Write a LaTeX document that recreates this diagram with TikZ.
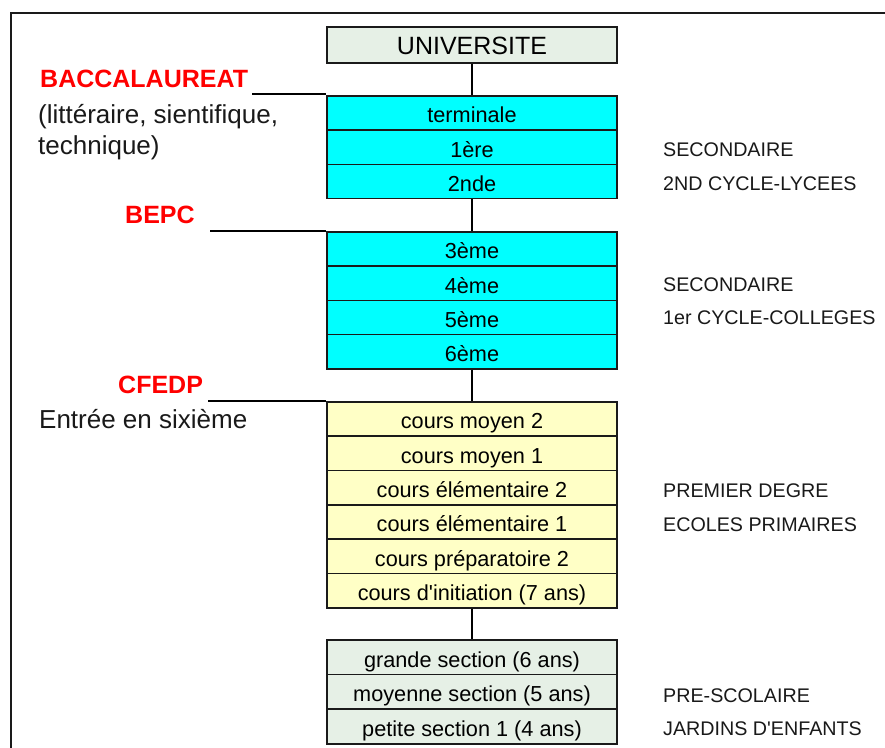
\documentclass[tikz,border=0pt]{standalone}
\usepackage{fontspec}
\setmainfont{Liberation Sans}
\definecolor{cyanbox}{HTML}{00FFFF}
\definecolor{yellowbox}{HTML}{FFFFC6}
\definecolor{greenbox}{HTML}{E6F0E6}
\definecolor{edge}{HTML}{1A1A1A}
\definecolor{redlabel}{HTML}{FF0000}
\begin{document}
\begin{tikzpicture}[x=1pt,y=-1pt,
  row/.style={draw=edge, line width=1.5pt, rectangle, minimum width=290pt,
    inner sep=0pt, anchor=north, text height=20pt, text depth=0pt,
    font=\fontsize{21.7}{24}\selectfont},
  cyanrow/.style={row, fill=cyanbox, minimum height=34.25pt},
  yellowrow/.style={row, fill=yellowbox, minimum height=34.33pt},
  greenrow/.style={row, fill=greenbox, minimum height=34.67pt},
  conn/.style={draw=black, line width=1.5pt},
  redlab/.style={inner sep=0pt, anchor=base west, text=redlabel,
    font=\fontsize{25}{28}\selectfont\bfseries},
  lefttext/.style={inner sep=0pt, anchor=base west, text=black!90,
    font=\fontsize{26}{30}\selectfont},
  righttext/.style={inner sep=0pt, anchor=base west, text=black!90,
    font=\fontsize{19.7}{23}\selectfont},
]
\useasboundingbox (0,0) rectangle (885,747);
% outer frame
\draw[edge, line width=2pt] (11,760) -- (11,12.5) -- (900,12.5);

% university
\node[row, fill=greenbox, minimum height=36pt, font=\fontsize{25}{28}\selectfont] (univ) at (472,26) {UNIVERSITE};

% lycee
\node[cyanrow] (term) at (472,95) {terminale};
\node[cyanrow] (prem) at (472,129.25) {1ère};
\node[cyanrow] (sec) at (472,163.5) {2nde};

% college
\node[cyanrow] (trois) at (472,231) {3ème};
\node[cyanrow] (quatre) at (472,265.25) {4ème};
\node[cyanrow] (cinq) at (472,299.5) {5ème};
\node[cyanrow] (six) at (472,333.75) {6ème};

% primaire
\node[yellowrow] (cm2) at (472,401) {cours moyen 2};
\node[yellowrow] (cm1) at (472,435.33) {cours moyen 1};
\node[yellowrow] (ce2) at (472,469.67) {cours élémentaire 2};
\node[yellowrow] (ce1) at (472,504) {cours élémentaire 1};
\node[yellowrow] (cp2) at (472,538.33) {cours préparatoire 2};
\node[yellowrow] (ci) at (472,572.67) {cours d\textquotesingle initiation (7 ans)};

% prescolaire
\node[greenrow] (gs) at (472,639) {grande section (6 ans)};
\node[greenrow] (ms) at (472,673.67) {moyenne section (5 ans)};
\node[greenrow] (ps) at (472,708.33) {petite section 1 (4 ans)};

% vertical connectors
\draw[conn] (univ.south) -- (term.north);
\draw[conn] (sec.south) -- (trois.north);
\draw[conn] (six.south) -- (cm2.north);
\draw[conn] (ci.south) -- (gs.north);

% left labels
\node[redlab] (bac) at (40,87) {BACCALAUREAT};
\node[lefttext] (bacA) at (38,123) {(littéraire, sientifique,};
\node[lefttext] (bacB) at (38,154) {technique)};
\node[redlab] (bepc) at (125,223) {BEPC};
\node[redlab] (cfedp) at (118,393) {CFEDP};
\node[lefttext] (entree) at (39,428) {Entrée en sixième};

% horizontal connectors
\coordinate (bacL) at (252,94);
\coordinate (bepcL) at (210,231);
\coordinate (cfedpL) at (208,401);
\draw[conn] (bacL) -- (bacL -| term.west);
\draw[conn] (bepcL) -- (bepcL -| trois.west);
\draw[conn] (cfedpL) -- (cfedpL -| cm2.west);

% right labels
\node[righttext] (r1) at (663,156) {SECONDAIRE};
\node[righttext] (r2) at (663,190) {2ND CYCLE-LYCEES};
\node[righttext] (r3) at (663,291) {SECONDAIRE};
\node[righttext] (r4) at (663,324) {1er CYCLE-COLLEGES};
\node[righttext] (r5) at (663,497) {PREMIER DEGRE};
\node[righttext] (r6) at (663,531) {ECOLES PRIMAIRES};
\node[righttext] (r7) at (663,702) {PRE-SCOLAIRE};
\node[righttext] (r8) at (663,735) {JARDINS D\textquotesingle ENFANTS};
\end{tikzpicture}
\end{document}
